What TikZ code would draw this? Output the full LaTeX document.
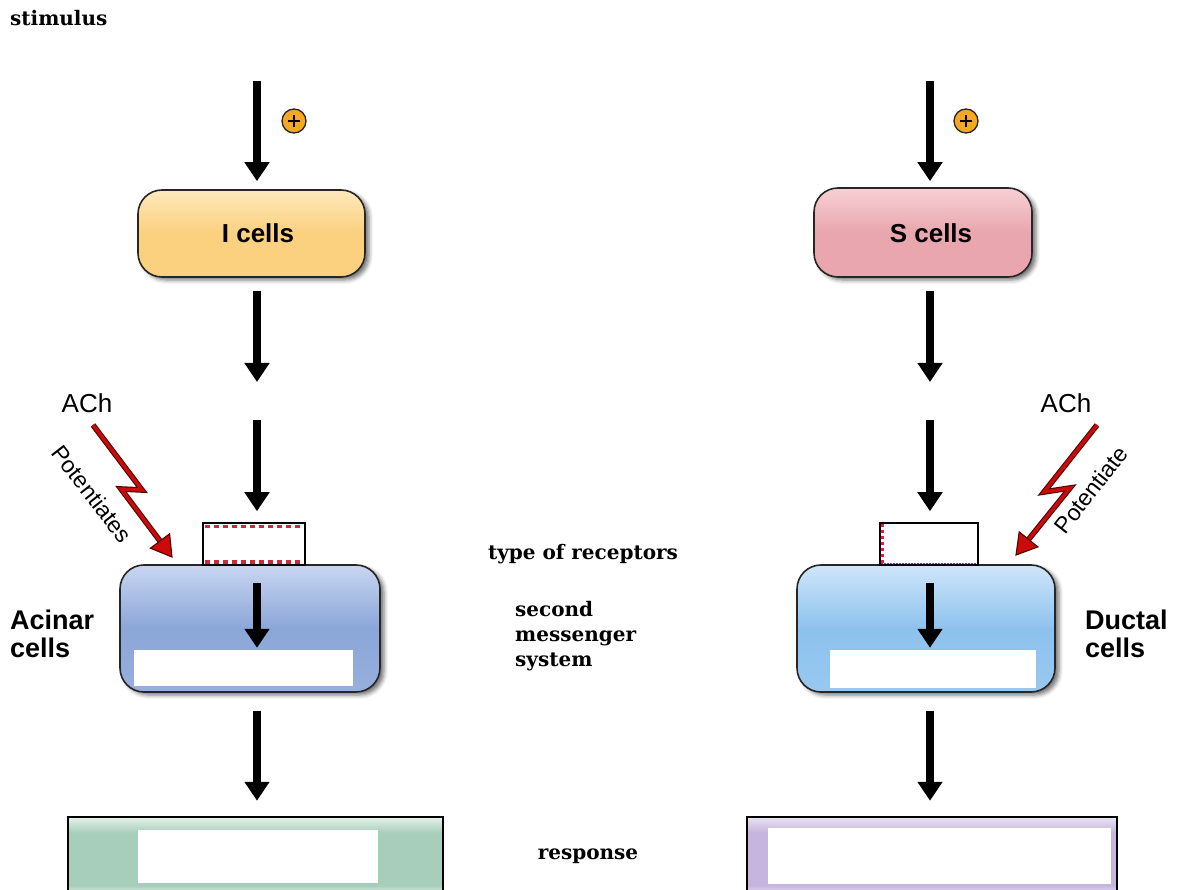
\documentclass[tikz,border=0pt]{standalone}
\usepackage{fontspec}
\setmainfont{DejaVu Serif}
\newfontfamily\arialish{Liberation Sans}
\usetikzlibrary{arrows.meta,shadows.blur}

\definecolor{icellL}{HTML}{FEE9BC}
\definecolor{icellM}{HTML}{FBD07E}
\definecolor{scellL}{HTML}{F7D0D5}
\definecolor{scellM}{HTML}{E9A6AE}
\definecolor{acinL}{HTML}{C9D6F1}
\definecolor{acinM}{HTML}{8BA6D8}
\definecolor{ductL}{HTML}{CFE6FA}
\definecolor{ductM}{HTML}{8DC2EE}
\definecolor{mint}{HTML}{A7CEBB}
\definecolor{mintL}{HTML}{E6F2EC}
\definecolor{lav}{HTML}{C6B5DE}
\definecolor{lavL}{HTML}{EAE3F4}
\definecolor{plusorange}{HTML}{F5A727}
\definecolor{boltred}{HTML}{CC0A0A}
\definecolor{boltdark}{HTML}{4A0505}
\definecolor{stripered}{HTML}{D0283A}

% glassy bands for the two response boxes (top of path = 75bp)
\pgfdeclareverticalshading{mintglass}{100bp}{color(0bp)=(mintL); color(25bp)=(mintL); color(31bp)=(mint); color(65bp)=(mint); color(75bp)=(mintL); color(100bp)=(mintL)}
\pgfdeclareverticalshading{lavglass}{100bp}{color(0bp)=(lavL); color(25bp)=(lavL); color(31bp)=(lav); color(65bp)=(lav); color(75bp)=(lavL); color(100bp)=(lavL)}

\begin{document}
\begin{tikzpicture}[x=1pt,y=-1pt,
  flow/.style={line width=8pt,-{Triangle[width=24pt,length=19pt]}},
  cellbox/.style={draw=black!85,line width=1.6pt,rounded corners=24pt,inner sep=0pt,
    blur shadow={shadow xshift=4pt,shadow yshift=-3pt,shadow blur radius=4pt,shadow opacity=55}},
  boxtext/.style={font=\arialish\bfseries\fontsize{26}{30}\selectfont,inner sep=0pt},
  sidelabel/.style={font=\arialish\bfseries\fontsize{27}{28}\selectfont,align=left,anchor=west,inner sep=0pt},
  note/.style={font=\bfseries\fontsize{20}{25}\selectfont,inner sep=0pt},
  achtext/.style={font=\arialish\fontsize{26}{30}\selectfont,inner sep=0pt},
  pottext/.style={font=\arialish\fontsize{23}{26}\selectfont,inner sep=0pt},
  receptor/.style={draw=black,line width=1.5pt,fill=white,inner sep=0pt},
  whitepanel/.style={fill=white,inner sep=0pt},
  respbox/.style={draw=black,line width=2.5pt,inner sep=0pt},
  plus/.style={circle,draw=black!85,line width=1.3pt,fill=plusorange,minimum size=24pt,inner sep=0pt},
  bolt/.style={draw=boltdark,line width=1.1pt,double=boltred,double distance=3.4pt,line join=miter,line cap=butt},
  bolthead/.style={fill=boltred,draw=boltdark,line width=1.1pt,line join=miter},
  stripe/.style={draw=stripered,line width=3.5pt,dash pattern=on 5pt off 4pt},
]
\useasboundingbox (0,0) rectangle (1184,890);
\clip (0,0) rectangle (1184,890);

% ---------- labels ----------
\node[note,anchor=west] (stim) at (10,18) {stimulus};
\node[note] (rectype) at (583,554) {type of receptors};
\node[note,align=left,anchor=west] (second) at (515,636) {second\\messenger\\system};
\node[note] (resp) at (588,856) {response};

% ---------- hormone-secreting cells ----------
\node[cellbox,top color=icellL,bottom color=icellM,middle color=icellM,
      minimum width=227pt,minimum height=87pt] (icells) at (251.5,233.5) {};
\node[boxtext] (icellsT) at (258,233) {I cells};
\node[cellbox,top color=scellL,bottom color=scellM,middle color=scellM,
      minimum width=218pt,minimum height=89pt] (scells) at (923,232.5) {};
\node[boxtext] (scellsT) at (931,233) {S cells};

% positive stimulus markers
\node[plus] (plusL) at (294,121) {};
\draw[line width=2.2pt] ([xshift=-6pt]plusL.center) -- ([xshift=6pt]plusL.center)
                        ([yshift=-6pt]plusL.center) -- ([yshift=6pt]plusL.center);
\node[plus] (plusR) at (966,121) {};
\draw[line width=2.2pt] ([xshift=-6pt]plusR.center) -- ([xshift=6pt]plusR.center)
                        ([yshift=-6pt]plusR.center) -- ([yshift=6pt]plusR.center);

% ---------- target cells ----------
\node[cellbox,top color=acinL,bottom color=acinM!90!white,middle color=acinM,
      minimum width=260pt,minimum height=127pt] (acinar) at (250,628.5) {};
\node[whitepanel,minimum width=219pt,minimum height=36pt] (panelL) at (243.5,668) {};
\node[cellbox,top color=ductL,bottom color=ductM!90!white,middle color=ductM,
      minimum width=258pt,minimum height=127pt] (ductal) at (926,628.5) {};
\node[whitepanel,minimum width=206pt,minimum height=38pt] (panelR) at (933,669) {};

\node[sidelabel] (acinarT) at (10,634) {Acinar\\cells};
\node[sidelabel] (ductalT) at (1085,634) {Ductal\\cells};

% receptors
\node[receptor,minimum width=102pt,minimum height=42pt] (recL) at (254,544) {};
\draw[stripe] ([shift={(2.5pt,-4pt)}]recL.north west) -- ([shift={(-2.5pt,-4pt)}]recL.north east);
\draw[stripe] ([shift={(2.5pt,4pt)}]recL.south west) -- ([shift={(-2.5pt,4pt)}]recL.south east);
\node[receptor,minimum width=98pt,minimum height=42pt] (recR) at (929,544) {};
\draw[stripe,line width=2.5pt,dash pattern=on 3pt off 3pt]
  ([shift={(3pt,-2pt)}]recR.north west) -- ([shift={(3pt,3pt)}]recR.south west);
\draw[draw=stripered,line width=0.8pt,dash pattern=on 1.5pt off 1.5pt]
  ([shift={(2pt,2pt)}]recR.south west) -- ([shift={(-2pt,2pt)}]recR.south east);

% ---------- response boxes ----------
\node[respbox,shading=mintglass,minimum width=375pt,minimum height=78pt] (respL) at (255.5,856) {};
\node[whitepanel,minimum width=240pt,minimum height=53pt] (outL) at (258,856.5) {};
\node[respbox,shading=lavglass,minimum width=370pt,minimum height=78pt] (respR) at (932,856) {};
\node[whitepanel,minimum width=343pt,minimum height=56pt] (outR) at (939.5,856) {};

% ---------- pathway arrows ----------
\coordinate (inL) at (257,81);
\coordinate (hormL) at (257,401);
\coordinate (inR) at (930,81);
\coordinate (hormR) at (930,401);

\draw[flow,shorten >=8pt] (inL) -- (inL |- icells.north);
\draw[flow,shorten <=13pt,shorten >=19pt] (hormL |- icells.south) -- (hormL);
\draw[flow,shorten <=19pt,shorten >=11pt] (hormL) -- (hormL |- recL.north);
\draw[flow,shorten <=17pt,shorten >=2pt] (hormL |- recL.south) -- (hormL |- panelL.north);
\draw[flow,shorten <=18pt,shorten >=15pt] (hormL |- acinar.south) -- (hormL |- respL.north);

\draw[flow,shorten >=6pt] (inR) -- (inR |- scells.north);
\draw[flow,shorten <=13pt,shorten >=19pt] (hormR |- scells.south) -- (hormR);
\draw[flow,shorten <=19pt,shorten >=11pt] (hormR) -- (hormR |- recR.north);
\draw[flow,shorten <=17pt,shorten >=2pt] (hormR |- recR.south) -- (hormR |- panelR.north);
\draw[flow,shorten <=18pt,shorten >=15pt] (hormR |- ductal.south) -- (hormR |- respR.north);

% ---------- acetylcholine potentiation ----------
\node[achtext] (achL) at (87,403) {ACh};
\node[achtext] (achR) at (1066,403) {ACh};
\node[pottext,rotate=-52] (potL) at (92,494) {Potentiates};
\node[pottext,rotate=52] (potR) at (1091,490) {Potentiate};

\coordinate (boltLa) at (93,425);
\coordinate (boltLb) at (142,490);
\coordinate (boltLc) at (121,489);
\coordinate (boltLh) at (161.2,542.6);
\draw[bolt] (boltLa) -- (boltLb) -- (boltLc) -- (boltLh);
\draw[bolthead] (169.6,533.8) -- (172,557) -- (150.4,548.2) -- cycle;

\coordinate (boltRa) at (1097,425);
\coordinate (boltRb) at (1044,492);
\coordinate (boltRc) at (1070,488);
\coordinate (boltRh) at (1027.3,541);
\draw[bolt] (boltRa) -- (boltRb) -- (boltRc) -- (boltRh);
\draw[bolthead] (1037.9,546.9) -- (1016,555) -- (1019.2,531.9) -- cycle;
\end{tikzpicture}
\end{document}
